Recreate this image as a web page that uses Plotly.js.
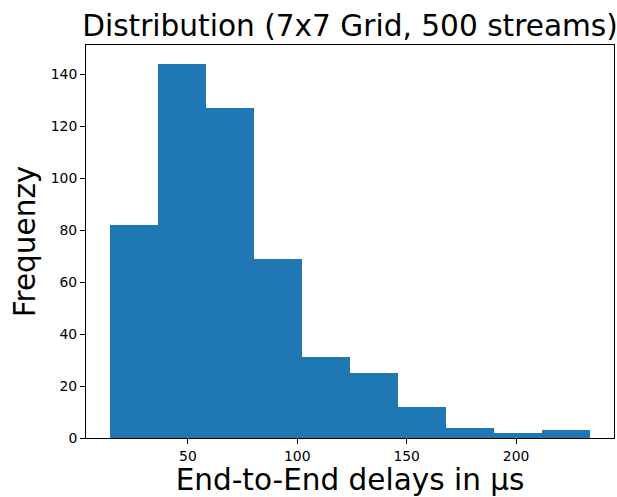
<!DOCTYPE html>
<html>
<head>
<meta charset="utf-8">
<script src="https://cdn.plot.ly/plotly-3.0.1.min.js"></script>
<style>html,body{margin:0;padding:0;background:#fff;}#chart{width:617px;height:497px;}</style>
</head>
<body>
<div id="chart"></div>
<script>
// Histogram bin edges (µs) and counts
const binEdges = [14.4, 36.34, 58.28, 80.22, 102.16, 124.1, 146.04, 167.98, 189.92, 211.86, 233.8];
const counts = [82, 144, 127, 69, 31, 25, 12, 4, 2, 3];
const xTicks = [50, 100, 150, 200];
const yTicks = [0, 20, 40, 60, 80, 100, 120, 140];

const centers = counts.map((_, i) => (binEdges[i] + binEdges[i + 1]) / 2);
const widths = counts.map((_, i) => binEdges[i + 1] - binEdges[i]);

const span = binEdges[binEdges.length - 1] - binEdges[0];
const xRange = [binEdges[0] - 0.05 * span, binEdges[binEdges.length - 1] + 0.05 * span];
const yRange = [0, Math.max(...counts) * 1.05];

const font = "DejaVu Sans, sans-serif";

Plotly.newPlot('chart', [{
  type: 'bar',
  x: centers,
  y: counts,
  width: widths,
  marker: {color: '#1f77b4', line: {width: 0}},
  hoverinfo: 'x+y'
}], {
  width: 617,
  height: 497,
  margin: {l: 86, r: 3, t: 45, b: 59, pad: 0},
  paper_bgcolor: '#fff',
  plot_bgcolor: '#fff',
  bargap: 0,
  showlegend: false,
  font: {family: font, color: '#000'},
  title: {
    text: 'Distribution (7x7 Grid, 500 streams)',
    font: {family: font, size: 29.6, color: '#000'},
    x: 0.5, xref: 'paper', xanchor: 'center',
    y: 1, yref: 'paper', yanchor: 'bottom',
    pad: {b: 9}
  },
  xaxis: {
    range: xRange,
    tickvals: xTicks,
    ticktext: xTicks.map(String),
    ticks: 'outside', ticklen: 5, tickwidth: 1, tickcolor: '#000',
    tickfont: {family: font, size: 13.9, color: '#000'},
    showline: true, linecolor: '#000', linewidth: 1, mirror: true,
    showgrid: false, zeroline: false,
    title: {text: 'End-to-End delays in µs', font: {family: font, size: 29.5, color: '#000'}, standoff: 5}
  },
  yaxis: {
    range: yRange,
    tickvals: yTicks,
    ticktext: yTicks.map(String),
    ticks: 'outside', ticklen: 5, tickwidth: 1, tickcolor: '#000',
    tickfont: {family: font, size: 13.9, color: '#000'},
    showline: true, linecolor: '#000', linewidth: 1, mirror: true,
    showgrid: false, zeroline: false,
    title: {text: 'Frequenzy', font: {family: font, size: 29.5, color: '#000'}, standoff: 6}
  }
}, {displayModeBar: false, staticPlot: true});
</script>
</body>
</html>
